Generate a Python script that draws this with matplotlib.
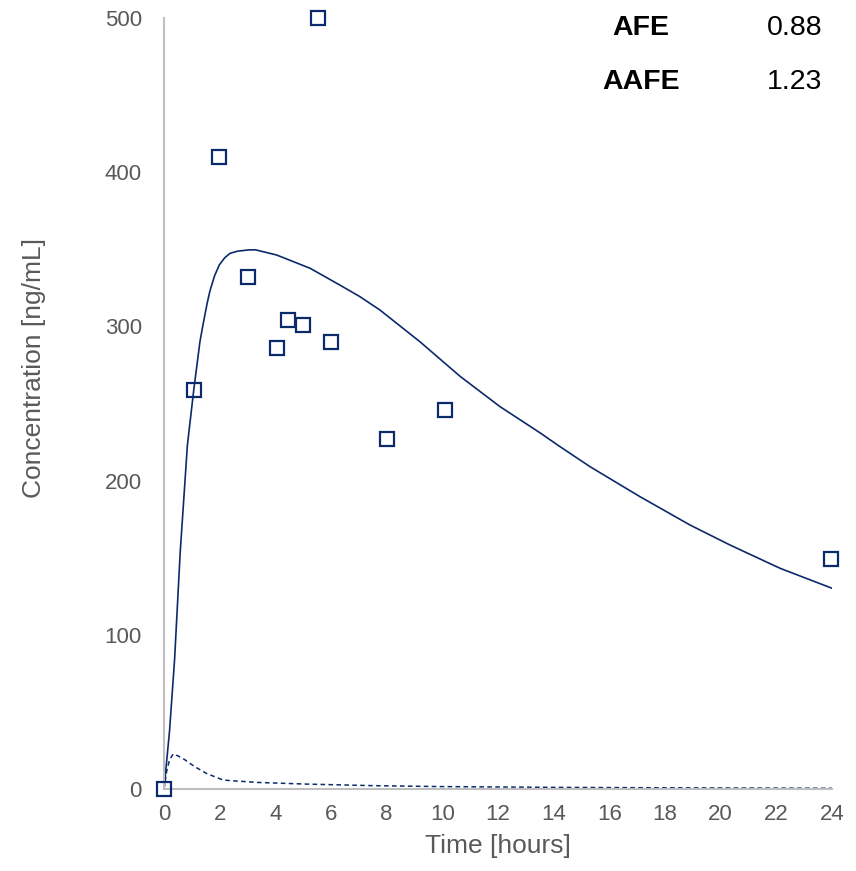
import matplotlib.pyplot as plt

plt.rcParams['font.family'] = ['Liberation Sans', 'DejaVu Sans']

# === DATA ===
obs_time = [0, 1.08, 1.98, 3.02, 4.06, 4.46, 5.0, 5.53, 6.0, 8.01, 10.1, 23.97]
obs_conc = [0, 259, 410, 332, 286, 304, 301, 500, 290, 227, 246, 149]

pred_time = [0, 0.2, 0.38, 0.58, 0.84, 1.07, 1.29, 1.41, 1.55, 1.65, 1.82, 1.99, 2.18,
             2.37, 2.64, 3.03, 3.28, 4.05, 5.25, 6.32, 7.04, 7.76, 9.2, 10.64, 12.07,
             13.51, 14.23, 15.31, 17.1, 18.9, 20.34, 22.14, 24.0]
pred_conc = [0, 38, 84, 153, 223, 259, 290, 302, 315, 323, 333, 340, 344.5,
             347.4, 348.8, 349.6, 349.7, 346.3, 337.7, 326.8, 319.3, 310.6, 290, 267.6, 248,
             231, 222, 209, 189.6, 171.2, 158.2, 143.1, 130.2]

sub_time = [0, 0.1, 0.2, 0.33, 0.5, 0.75, 0.93, 1.2, 1.53, 2.13, 3.33, 5.13, 7.5, 9.9, 14, 18, 24]
sub_conc = [0, 12, 19, 22.7, 21.5, 19, 16.6, 13.5, 10.1, 5.8, 4.3, 3.2, 2.2, 1.6, 1.1, 0.8, 0.5]

stats_labels = ["AFE", "AAFE"]
stats_values = ["0.88", "1.23"]

# === PLOT ===
navy = "#0B2A6B"
grey = "#595959"

fig = plt.figure(figsize=(8.56, 8.71), dpi=100)
ax = fig.add_axes([0.1916, 0.0941, 0.972 - 0.1916, 0.9793 - 0.0941])

ax.plot(pred_time, pred_conc, color=navy, lw=1.2, solid_joinstyle="round")
ax.plot(sub_time, sub_conc, color=navy, lw=1.1, ls=(0, (3, 2.2)))
ax.plot(obs_time, obs_conc, ls="none", marker="s", ms=10, mfc="none",
        mec=navy, mew=1.6, clip_on=False, zorder=5)

ax.set_xlim(0, 24)
ax.set_ylim(0, 500)
ax.set_xticks(range(0, 25, 2))
ax.set_yticks(range(0, 501, 100))

for s in ["top", "right"]:
    ax.spines[s].set_visible(False)
for s in ["left", "bottom"]:
    ax.spines[s].set_color("#BFBFBF")
    ax.spines[s].set_linewidth(1.5)

ax.tick_params(length=0, labelsize=16, labelcolor=grey, pad=11)
ax.tick_params(axis="y", pad=16)
ax.set_xlabel("Time [hours]", fontsize=19, color=grey, labelpad=6)
ax.set_ylabel("Concentration [ng/mL]", fontsize=19, color=grey, labelpad=42)
ax.yaxis.label.set_y(0.546)

# AFE / AAFE summary
for i, (lab, val) in enumerate(zip(stats_labels, stats_values)):
    y = 1 - 28 / 871 - i * 54 / 871
    fig.text(641 / 856, y, lab, ha="center", va="center", fontsize=20.5,
             fontweight="bold", color="black")
    fig.text(795 / 856, y, val, ha="center", va="center", fontsize=20.5, color="black")

fig.savefig("out.png", dpi=100)
